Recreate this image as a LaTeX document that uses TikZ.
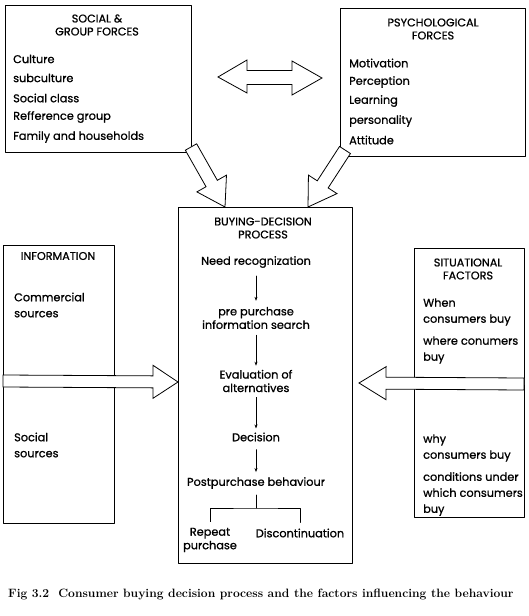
\documentclass[tikz,border=0pt]{standalone}
\usepackage{fontspec}
\setsansfont{Poppins}[FakeBold=0.9]
\usetikzlibrary{calc,arrows.meta}

\tikzset{
  box/.style={draw,line width=1pt,anchor=north west,inner sep=0pt},
  title/.style={font=\sffamily\fontsize{11.2}{13}\selectfont,align=center,inner sep=0pt},
  item/.style={font=\sffamily\fontsize{11.3}{16}\selectfont,anchor=west,inner sep=0pt},
  stage/.style={font=\sffamily\fontsize{11.3}{13.5}\selectfont,align=center,inner sep=0pt},
  flow/.style={-{Stealth[length=4pt,width=3pt]},line width=0.6pt},
  hollow/.style={draw,fill=white,line width=0.8pt,line join=miter}
}

% hollow block arrow: from, to, half shaft, half head, head length
\newcommand{\blockarrow}[5]{%
  \begin{scope}
    \coordinate (ba) at ($(#2)!#5pt!(#1)$);
    \draw[hollow] ($(#1)!#3pt!90:(#2)$) -- ($(ba)!#3pt!90:(#2)$) -- ($(ba)!#4pt!90:(#2)$)
      -- (#2) -- ($(ba)!#4pt!-90:(#2)$) -- ($(ba)!#3pt!-90:(#2)$) -- ($(#1)!#3pt!-90:(#2)$) -- cycle;
  \end{scope}}

\begin{document}
\begin{tikzpicture}[x=1pt,y=-1pt,line cap=round,line join=round]
  \useasboundingbox (0,0) rectangle (528,616);

  % boxes
  \node[box,minimum width=186,minimum height=147] (social) at (5,5) {};
  \node[box,minimum width=185,minimum height=148] (psych) at (340,8) {};
  \node[box,minimum width=174,minimum height=356] (process) at (178,207) {};
  \node[box,minimum width=111,minimum height=278] (info) at (3,245) {};
  \node[box,minimum width=110,minimum height=269] (situ) at (414,248) {};

  % social & group forces
  \node[title] (socialtitle) at (97,25) {SOCIAL \&\\GROUP FORCES};
  \node[item] (culture) at (13,59) {Culture};
  \node[item] (subculture) at (13,78) {subculture};
  \node[item] (class) at (13,98) {Social class};
  \node[item] (reference) at (13,117) {Refference group};
  \node[item] (family) at (13,137) {Family and households};

  % psychological forces
  \node[title] (psychtitle) at (433,29) {PSYCHOLOGICAL\\FORCES};
  \node[item] (motivation) at (349,63) {Motivation};
  \node[item] (perception) at (349,82) {Perception};
  \node[item] (learning) at (349,101) {Learning};
  \node[item] (personality) at (349,121) {personality};
  \node[item] (attitude) at (349,140) {Attitude};

  % information
  \node[title] (infotitle) at (58,256) {INFORMATION};
  \node[item,align=left] (commercial) at (14,305) {Commercial\\sources};
  \node[item,align=left] (socialsrc) at (14,445) {Social\\sources};

  % situational factors
  \node[title] (situtitle) at (468,269) {SITUATIONAL\\FACTORS};
  \node[item,align=left] (when) at (423,312) {When\\consumers buy};
  \node[item,align=left] (where) at (423,350) {where conumers\\buy};
  \node[item,align=left] (why) at (423,448) {why\\consumers buy};
  \node[item,align=left] (conditions) at (423,494) {conditions under\\which consumers\\buy};

  % buying-decision process
  \node[title] (processtitle) at (263,228) {BUYING-DECISION\\PROCESS};
  \node[stage] (need) at (256,262) {Need recognization};
  \node[stage] (search) at (256,318) {pre purchase\\information search};
  \node[stage] (eval) at (256,381) {Evaluation of\\alternatives};
  \node[stage] (decision) at (256,437) {Decision};
  \node[stage] (post) at (256,483) {Postpurchase behaviour};
  \node[stage] (repeat) at (210,540) {Repeat\\purchase};
  \node[stage] (discont) at (300,533) {Discontinuation};
  \coordinate (fork) at (256,508);

  \draw[flow,shorten <=8pt,shorten >=6pt] (need) -- (search);
  \draw[flow,shorten <=6pt,shorten >=4pt] (search) -- (eval);
  \draw[flow,shorten <=5pt,shorten >=4pt] (eval) -- (decision);
  \draw[flow,shorten <=8pt,shorten >=5pt] (decision) -- (post);
  \draw[line width=0.6pt,shorten <=6pt] (post.south -| fork) -- (fork);
  \draw[line width=0.6pt,shorten <=6pt,shorten >=6pt] (repeat.north) |- (fork) -| (discont.north);

  % block arrows
  \draw[hollow] (218,77) -- (247,60) -- (247,70.5) -- (292,70.5) -- (292,61)
    -- (322,78) -- (292,95) -- (292,84.5) -- (247,84.5) -- (247,93) -- cycle;
  \coordinate (socialout) at (191,147);
  \coordinate (psychout) at (345,150);
  \coordinate (infoout) at (3,381);
  \coordinate (situout) at (524,384);
  \path (process.north west) ++(47,0) coordinate (socialin);
  \path (process.north west) ++(130,0) coordinate (psychin);
  \path (process.north west) ++(0,175) coordinate (infoin);
  \path (process.north east) ++(6,176) coordinate (situin);
  \blockarrow{socialout}{socialin}{6.5}{17}{27}
  \blockarrow{psychout}{psychin}{6.5}{17}{27}
  \blockarrow{infoout}{infoin}{6}{16.5}{25}
  \blockarrow{situout}{situin}{6}{16.5}{27}

  % caption
  \node[font=\bfseries\fontsize{12.1}{14}\selectfont,anchor=west,inner sep=0pt] (caption) at (8,594)
    {Fig 3.2\ \ Consumer buying decision process and the factors influencing the behaviour};
\end{tikzpicture}
\end{document}
